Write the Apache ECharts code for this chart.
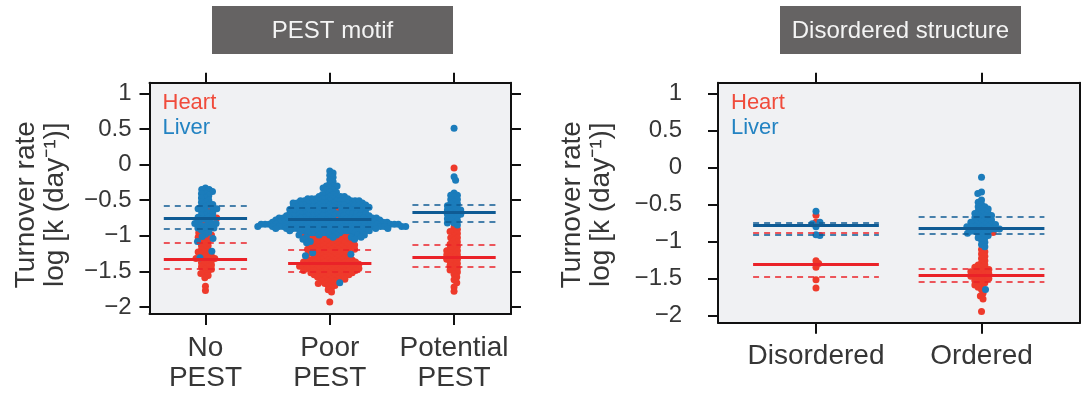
<!DOCTYPE html>
<html>
<head>
<meta charset="utf-8">
<script src="https://cdn.jsdelivr.net/npm/echarts@6/dist/echarts.min.js"></script>
<style>
  html, body { margin: 0; padding: 0; background: #ffffff; }
  #chart { width: 1081px; height: 393px; }
</style>
</head>
<body>
<div id="chart"></div>
<script>
// ---- categories and tick labels ----
const pestCategories = ['No\nPEST', 'Poor\nPEST', 'Potential\nPEST'];
const structCategories = ['Disordered', 'Ordered'];
const yTicks = [-2, -1.5, -1, -0.5, 0, 0.5, 1];

// ---- turnover values, log10 k (day^-1), as [value, number of proteins] ----
const noPestHeart = [[-0.62,1],[-0.75,1],[-0.82,1],[-0.96,1],[-0.99,1],[-1.02,2],[-1.05,1],[-1.08,2],[-1.11,1],[-1.14,2],[-1.17,1],[-1.20,2],[-1.23,2],[-1.26,2],[-1.29,2],[-1.32,3],[-1.35,2],[-1.38,2],[-1.41,2],[-1.44,2],[-1.47,2],[-1.50,1],[-1.53,2],[-1.56,1],[-1.59,1],[-1.71,1],[-1.77,1]];
const noPestLiver = [[-0.33,1],[-0.35,2],[-0.38,1],[-0.41,2],[-0.44,1],[-0.47,2],[-0.50,1],[-0.53,2],[-0.56,2],[-0.59,2],[-0.62,3],[-0.65,2],[-0.68,2],[-0.71,2],[-0.74,3],[-0.77,2],[-0.80,2],[-0.83,3],[-0.86,2],[-0.89,3],[-0.92,2],[-0.95,1],[-0.98,1],[-1.01,1],[-1.04,1],[-1.08,1],[-1.22,1],[-1.31,1]];

const poorPestHeart = [[-0.62,1],[-0.74,1],[-0.98,3],[-1.01,4],[-1.04,5],[-1.07,5],[-1.10,6],[-1.13,6],[-1.16,7],[-1.19,7],[-1.22,6],[-1.25,5],[-1.28,5],[-1.31,6],[-1.34,8],[-1.37,8],[-1.40,9],[-1.43,9],[-1.46,9],[-1.49,8],[-1.52,7],[-1.55,6],[-1.58,5],[-1.61,4],[-1.64,3],[-1.67,3],[-1.70,2],[-1.73,1],[-1.76,1],[-1.79,1],[-1.93,1]];
const poorPestLiver = [[-0.09,1],[-0.12,1],[-0.15,1],[-0.18,1],[-0.21,1],[-0.24,1],[-0.27,1],[-0.30,3],[-0.33,2],[-0.36,2],[-0.39,2],[-0.42,3],[-0.45,5],[-0.48,7],[-0.51,10],[-0.54,10],[-0.57,11],[-0.60,11],[-0.63,10],[-0.66,10],[-0.69,11],[-0.72,12],[-0.75,13],[-0.78,14],[-0.81,17],[-0.84,20],[-0.87,20],[-0.90,15],[-0.93,12],[-0.96,9],[-0.99,6],[-1.02,4],[-1.05,2],[-1.08,1],[-1.10,1],[-1.24,1],[-1.26,1],[-1.28,1],[-1.66,1]];

const potentialPestHeart = [[-0.05,1],[-0.88,1],[-0.91,1],[-0.94,2],[-0.97,1],[-1.00,1],[-1.03,2],[-1.06,1],[-1.09,1],[-1.12,2],[-1.15,1],[-1.18,2],[-1.21,2],[-1.24,2],[-1.27,2],[-1.30,2],[-1.33,2],[-1.36,2],[-1.39,1],[-1.42,2],[-1.45,1],[-1.48,2],[-1.51,1],[-1.54,1],[-1.58,1],[-1.62,1],[-1.66,1],[-1.72,1],[-1.78,1]];
const potentialPestLiver = [[0.51,1],[-0.17,1],[-0.22,1],[-0.40,1],[-0.43,2],[-0.46,1],[-0.49,2],[-0.52,1],[-0.55,2],[-0.58,2],[-0.61,2],[-0.64,3],[-0.67,2],[-0.70,3],[-0.73,2],[-0.76,2],[-0.79,2],[-0.82,2],[-0.85,1]];

const disorderedHeart = [[-0.645,1],[-0.74,1],[-1.26,1],[-1.30,1],[-1.35,1],[-1.52,1],[-1.63,1]];
const disorderedLiver = [[-0.59,1],[-0.74,1],[-0.76,1],[-0.80,1],[-0.91,1],[-0.92,1]];
const orderedHeart = [[-0.88,1],[-1.11,1],[-1.14,1],[-1.17,1],[-1.20,1],[-1.23,1],[-1.26,1],[-1.29,1],[-1.32,2],[-1.35,2],[-1.38,3],[-1.41,3],[-1.44,3],[-1.47,3],[-1.50,3],[-1.53,2],[-1.56,2],[-1.59,2],[-1.62,1],[-1.65,1],[-1.70,1],[-1.74,1],[-1.78,1],[-1.95,1]];
const orderedLiver = [[-0.13,1],[-0.33,1],[-0.35,1],[-0.44,1],[-0.47,1],[-0.50,1],[-0.53,2],[-0.56,2],[-0.59,2],[-0.62,3],[-0.65,3],[-0.68,3],[-0.71,3],[-0.74,4],[-0.77,4],[-0.80,5],[-0.83,5],[-0.86,4],[-0.89,3],[-0.92,2],[-0.95,2],[-0.98,1],[-1.01,1],[-1.04,1],[-1.07,1],[-1.65,1]];

// ---- group summaries: median and quartiles ----
const pestHeartMedian = [-1.33, -1.39, -1.30];
const pestHeartQ1 = [-1.47, -1.51, -1.43];
const pestHeartQ3 = [-1.095, -1.195, -1.13];
const pestLiverMedian = [-0.757, -0.77, -0.676];
const pestLiverQ1 = [-0.90, -0.87, -0.81];
const pestLiverQ3 = [-0.586, -0.61, -0.57];

const structHeartMedian = [-1.31, -1.455];
const structHeartQ1 = [-1.48, -1.55];
const structHeartQ3 = [-0.88, -1.375];
const structLiverMedian = [-0.78, -0.816];
const structLiverQ1 = [-0.915, -0.89];
const structLiverQ3 = [-0.74, -0.667];

// ---- styling ----
const RED = '#ee3a2b';
const BLUE = '#1b7cbb';
const RED_LINE = '#ea2228';
const BLUE_LINE = '#0f5b94';
const FONT = '"Liberation Sans", Arial, Helvetica, sans-serif';
const TEXT = '#363636';

const Y_MIN = -2.1, Y_MAX = 1.15;
const panels = [
  { left: 149.5, top: 82.7, width: 361.5, height: 240, xMin: -0.45, xMax: 2.458, halfLine: 0.335,
    labelMargin: 18, titleX: [26, 55],
    cats: pestCategories,
    groups: [[noPestHeart, noPestLiver], [poorPestHeart, poorPestLiver], [potentialPestHeart, potentialPestLiver]],
    heart: [pestHeartMedian, pestHeartQ1, pestHeartQ3], liver: [pestLiverMedian, pestLiverQ1, pestLiverQ3] },
  { left: 718, top: 82.7, width: 362, height: 240, xMin: -0.592, xMax: 1.595, halfLine: 0.38,
    labelMargin: 36, titleX: [572, 601],
    cats: structCategories,
    groups: [[disorderedHeart, disorderedLiver], [orderedHeart, orderedLiver]],
    heart: [structHeartMedian, structHeartQ1, structHeartQ3], liver: [structLiverMedian, structLiverQ1, structLiverQ3] }
];

const DOT = 7;       // symbol diameter, px
const SEP = 4;       // minimum centre distance in the swarm, px

// Swarm layout: each dot sits at its value, pushed sideways just enough to clear its neighbours.
function swarmOffsets(points, pxPerY) {
  const order = points.map((p, i) => i).sort((a, b) => points[b].v - points[a].v);
  const placed = [];
  const out = new Array(points.length);
  let flip = 1;
  for (const i of order) {
    const y = -points[i].v * pxPerY;
    const nb = placed.filter(p => Math.abs(p.y - y) < SEP);
    const cands = [0];
    for (const p of nb) {
      const dx = Math.sqrt(SEP * SEP - (p.y - y) * (p.y - y));
      cands.push(p.x + dx, p.x - dx);
    }
    cands.sort((a, b) => (Math.abs(a) - Math.abs(b)) || (flip * (a - b)));
    let x = cands[cands.length - 1];
    for (const c of cands) {
      if (nb.every(p => (p.x - c) * (p.x - c) + (p.y - y) * (p.y - y) >= SEP * SEP - 1e-6)) { x = c; break; }
    }
    flip = -flip;
    placed.push({ x, y });
    out[i] = x;
  }
  return out;
}

const grids = [], xAxes = [], yAxes = [], series = [], graphics = [];

panels.forEach((P, pi) => {
  const pxPerX = P.width / (P.xMax - P.xMin);
  const pxPerY = P.height / (Y_MAX - Y_MIN);
  grids.push({ left: P.left, top: P.top, width: P.width, height: P.height, show: true,
    backgroundColor: '#f0f1f3', borderWidth: 0 });

  const catIdx = P.cats.map((c, i) => i);
  const axisLine = { show: true, onZero: false, lineStyle: { color: '#111', width: 2 } };
  xAxes.push({ gridIndex: pi, type: 'value', position: 'bottom', min: P.xMin, max: P.xMax,
    axisLine, splitLine: { show: false },
    axisTick: { show: true, length: 11, customValues: catIdx, lineStyle: { color: '#111', width: 2 } },
    axisLabel: { show: true, customValues: catIdx, formatter: v => P.cats[Math.round(v)],
      fontFamily: FONT, fontSize: 28, lineHeight: 30, color: TEXT, margin: 19 } });
  xAxes.push({ gridIndex: pi, type: 'value', position: 'top', min: P.xMin, max: P.xMax,
    axisLine, splitLine: { show: false },
    axisTick: { show: true, length: 10, customValues: catIdx, lineStyle: { color: '#111', width: 2 } },
    axisLabel: { show: false } });
  yAxes.push({ gridIndex: pi, type: 'value', position: 'left', min: Y_MIN, max: Y_MAX,
    axisLine, splitLine: { show: false },
    axisTick: { show: true, length: 10, customValues: yTicks, lineStyle: { color: '#111', width: 2 } },
    axisLabel: { show: true, customValues: yTicks, formatter: v => (v < 0 ? '\u2212' + Math.abs(v) : String(v)),
      fontFamily: FONT, fontSize: 24, color: TEXT, margin: P.labelMargin } });
  yAxes.push({ gridIndex: pi, type: 'value', position: 'right', min: Y_MIN, max: Y_MAX,
    axisLine, splitLine: { show: false },
    axisTick: { show: true, length: 10, customValues: yTicks, lineStyle: { color: '#111', width: 2 } },
    axisLabel: { show: false } });

  const heartPts = [], liverPts = [];
  P.groups.forEach((pair, ci) => {
    const pts = [];
    pair[0].forEach(([v, n]) => { for (let k = 0; k < n; k++) pts.push({ v, t: 0 }); });
    pair[1].forEach(([v, n]) => { for (let k = 0; k < n; k++) pts.push({ v, t: 1 }); });
    const off = swarmOffsets(pts, pxPerY);
    pts.forEach((p, k) => {
      const xy = [ci + off[k] / pxPerX, p.v];
      (p.t === 0 ? heartPts : liverPts).push(xy);
    });
  });

  const xi = pi * 2, yi = pi * 2;
  series.push({ type: 'scatter', name: 'Heart', xAxisIndex: xi, yAxisIndex: yi, data: heartPts,
    symbolSize: DOT, itemStyle: { color: RED, opacity: 1 }, z: 2, silent: true, animation: false });
  series.push({ type: 'scatter', name: 'Liver', xAxisIndex: xi, yAxisIndex: yi, data: liverPts,
    symbolSize: DOT, itemStyle: { color: BLUE, opacity: 1 }, z: 3, silent: true, animation: false });

  // median (solid) and quartile (dashed) bars for each group
  const segs = [];
  const addSegs = (stats, color) => {
    stats.forEach((arr, si) => {
      arr.forEach((v, ci) => {
        segs.push({ coords: [[ci - P.halfLine, v], [ci + P.halfLine, v]],
          lineStyle: { color, width: si === 0 ? 3 : 1.6, type: si === 0 ? 'solid' : [6, 5], opacity: 1 } });
      });
    });
  };
  addSegs(P.heart, RED_LINE);
  addSegs(P.liver, BLUE_LINE);
  series.push({ type: 'lines', coordinateSystem: 'cartesian2d', xAxisIndex: xi, yAxisIndex: yi,
    data: segs, symbol: 'none', z: 4, silent: true, animation: false });

  // tissue labels in the top-left corner
  graphics.push({ type: 'text', left: P.left + 13, top: 92, silent: true,
    style: { text: 'Heart', fill: '#f04b3b', font: '22px ' + FONT } });
  graphics.push({ type: 'text', left: P.left + 13, top: 117, silent: true,
    style: { text: 'Liver', fill: '#2383c2', font: '22px ' + FONT } });

  // y-axis title (two rotated lines)
  const cy = P.top + P.height / 2 + 2;
  graphics.push({ type: 'text', x: P.titleX[0], y: cy, rotation: Math.PI / 2, silent: true,
    style: { text: 'Turnover rate', fill: TEXT, font: '28px ' + FONT, align: 'center', verticalAlign: 'middle' } });
  graphics.push({ type: 'text', x: P.titleX[1], y: cy, rotation: Math.PI / 2, silent: true,
    style: { text: 'log [k (day\u207B\u00B9)]', fill: TEXT, font: '28px ' + FONT, align: 'center', verticalAlign: 'middle' } });
});

// panel header boxes
const headers = [
  { x: 212, w: 241, text: 'PEST motif' },
  { x: 780, w: 241, text: 'Disordered structure' }
];
headers.forEach(h => {
  graphics.push({ type: 'rect', shape: { x: h.x, y: 6, width: h.w, height: 48 }, silent: true,
    style: { fill: '#656363' } });
  graphics.push({ type: 'text', x: h.x + h.w / 2, y: 31, silent: true,
    style: { text: h.text, fill: '#f4f4f4', font: '24px ' + FONT, align: 'center', verticalAlign: 'middle' } });
});

const chart = echarts.init(document.getElementById('chart'), null, { renderer: 'canvas' });
chart.setOption({
  animation: false,
  backgroundColor: '#ffffff',
  grid: grids,
  xAxis: xAxes,
  yAxis: yAxes,
  series,
  graphic: graphics
});
</script>
</body>
</html>
